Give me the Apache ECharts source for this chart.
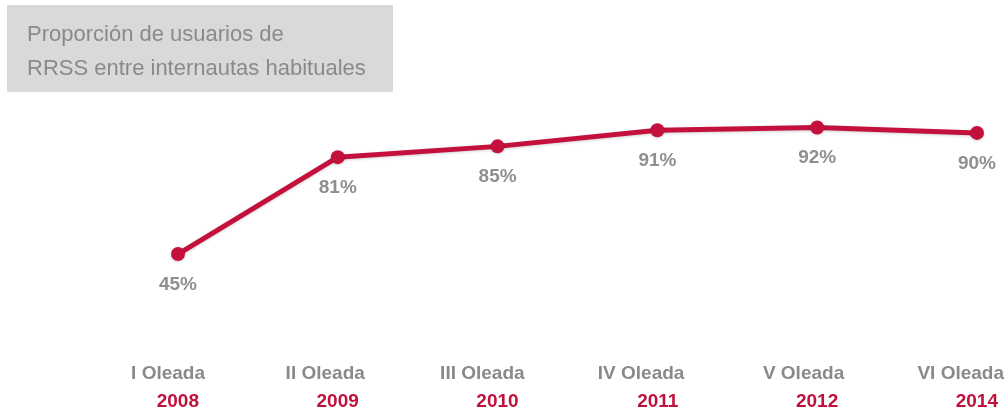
<!DOCTYPE html>
<html>
<head>
<meta charset="utf-8">
<script src="https://cdn.jsdelivr.net/npm/echarts@6/dist/echarts.min.js"></script>
<style>
  html, body { margin: 0; padding: 0; background: #fff; }
  #chart { width: 1005px; height: 410px; }
</style>
</head>
<body>
<div id="chart"></div>
<script>
const waves = ["I Oleada", "II Oleada", "III Oleada", "IV Oleada", "V Oleada", "VI Oleada"];
const years = ["2008", "2009", "2010", "2011", "2012", "2014"];
const shares = [45, 81, 85, 91, 92, 90];

const chart = echarts.init(document.getElementById("chart"));

const option = {
  animation: false,
  textStyle: { fontFamily: "Liberation Sans, Arial, sans-serif" },
  graphic: [
    {
      type: "rect",
      left: 7,
      top: 5,
      z: -1,
      shape: { width: 386, height: 87 },
      style: { fill: "#d9d9d9" }
    }
  ],
  title: {
    text: "Proporción de usuarios de\nRRSS entre internautas habituales",
    left: 27,
    top: 18,
    padding: 0,
    textStyle: {
      color: "#8a8a8a",
      fontSize: 22,
      fontWeight: "normal",
      lineHeight: 34
    }
  },
  grid: {
    left: 178,
    right: 28,
    top: 106,
    bottom: 115.6,
    outerBoundsMode: "none",
    containLabel: false
  },
  xAxis: {
    type: "category",
    data: waves.map((w, i) => w + "|" + years[i]),
    boundaryGap: false,
    axisLine: { show: false },
    axisTick: { show: false },
    splitLine: { show: false },
    axisLabel: {
      margin: 65,
      interval: 0,
      align: "left",
      hideOverlap: false,
      formatter: function (v) {
        const parts = v.split("|");
        return "{a|" + parts[0] + "}\n{b|" + parts[1] + "}";
      },
      rich: {
        a: {
          color: "#8a8a8a",
          fontSize: 19,
          fontWeight: "bold",
          lineHeight: 28,
          width: 27,
          align: "right"
        },
        b: {
          color: "#c0103c",
          fontSize: 19,
          fontWeight: "bold",
          lineHeight: 28,
          width: 15,
          padding: [0, 6, 0, 0],
          align: "right"
        }
      }
    }
  },
  yAxis: {
    type: "value",
    min: 30,
    max: 100,
    show: false
  },
  series: [
    {
      type: "line",
      data: shares,
      symbol: "circle",
      symbolSize: 14,
      lineStyle: {
        color: "#c4103d",
        width: 5,
        shadowColor: "rgba(0,0,0,0.18)",
        shadowBlur: 3,
        shadowOffsetY: 1
      },
      itemStyle: {
        color: "#c4103d",
        shadowColor: "rgba(0,0,0,0.18)",
        shadowBlur: 3,
        shadowOffsetY: 1
      },
      label: {
        show: true,
        position: "bottom",
        distance: 14,
        formatter: "{c}%",
        color: "#8f8f8f",
        fontSize: 19,
        fontWeight: "bold"
      }
    }
  ]
};

chart.setOption(option);
window.addEventListener("resize", () => chart.resize());
</script>
</body>
</html>
